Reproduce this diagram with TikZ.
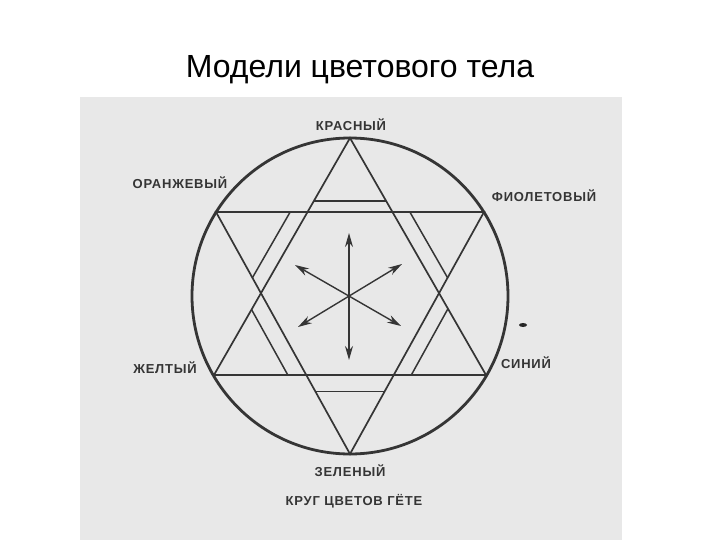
\documentclass[tikz,border=0pt]{standalone}
\usepackage{fontspec}
\setmainfont{Liberation Sans}
\newfontfamily\lblfont[LetterSpace=6]{Liberation Sans Bold}
\usetikzlibrary{arrows.meta,calc}
\definecolor{scan}{HTML}{E8E8E8}
\definecolor{ink}{HTML}{353535}
\tikzset{
  ring/.style={draw=ink, line width=2.8pt},
  tri/.style={draw=ink, line width=1.7pt},
  band/.style={draw=ink, line width=1.5pt},
  arr/.style={draw=ink, line width=1.4pt, {Stealth[length=14pt,width=8pt,inset=4.5pt]}-{Stealth[length=14pt,width=8pt,inset=4.5pt]}},
  lbl/.style={text=ink, font=\lblfont\fontsize{13}{15}\selectfont, inner sep=0pt},
  ttl/.style={text=black, font=\fontsize{32}{36}\selectfont, inner sep=0pt}
}
\begin{document}
\begin{tikzpicture}[x=1pt,y=-1pt]
\useasboundingbox (0,0) rectangle (720,540);
\fill[white] (0,0) rectangle (720,540);
\fill[scan] (80,97) rectangle (622,540);

\node[ttl] (title) at (360,70) {Модели цветового тела};

% hexagram vertices
\coordinate (A)  at (350,138);
\coordinate (B)  at (350,454);
\coordinate (UL) at (216,212);
\coordinate (UR) at (484,212);
\coordinate (LL) at (214,375);
\coordinate (LR) at (486,375);

\draw[ring] (350,296) circle[radius=158pt];

\draw[tri] (A) -- (LL) -- (LR) -- cycle;
\draw[tri] (B) -- (UL) -- (UR) -- cycle;

% inner hexagon corners
\coordinate (H1) at (intersection of A--LL and UL--UR);
\coordinate (H2) at (intersection of A--LR and UL--UR);
\coordinate (H3) at (intersection of A--LR and UR--B);
\coordinate (H4) at (intersection of LL--LR and UR--B);
\coordinate (H5) at (intersection of LL--LR and UL--B);
\coordinate (H6) at (intersection of A--LL and UL--B);

% bands in the six points
\draw[band] ($(A)!0.85!(H1)$) -- ($(A)!0.85!(H2)$);
\draw[band] ($(UR)!0.81!(H2)$) -- ($(UR)!0.81!(H3)$);
\draw[band] ($(LR)!0.81!(H3)$) -- ($(LR)!0.81!(H4)$);
\draw[band] ($(B)!0.79!(H4)$) -- ($(B)!0.79!(H5)$);
\draw[band] ($(LL)!0.80!(H5)$) -- ($(LL)!0.80!(H6)$);
\draw[band] ($(UL)!0.81!(H6)$) -- ($(UL)!0.81!(H1)$);

% arrows
\coordinate (aU)  at (349,233);
\coordinate (aD)  at (349,360);
\coordinate (aUL) at (295,265);
\coordinate (aLR) at (401,326);
\coordinate (aLL) at (298,327);
\coordinate (aUR) at (402,264);
\draw[arr] (aD) -- (aU);
\draw[arr] (aLR) -- (aUL);
\draw[arr] (aLL) -- (aUR);

% labels
\node[lbl] (red)    at (351,125) {КРАСНЫЙ};
\node[lbl] (orange) at (180,183) {ОРАНЖЕВЫЙ};
\node[lbl] (violet) at (544,196) {ФИОЛЕТОВЫЙ};
\node[lbl] (yellow) at (165,368) {ЖЕЛТЫЙ};
\node[lbl] (blue)   at (526,363) {СИНИЙ};
\node[lbl] (green)  at (350,471) {ЗЕЛЕНЫЙ};
\node[lbl] (cap)    at (354,501) {КРУГ ЦВЕТОВ ГЁТЕ};

% scan speck
\fill[black!85] (523,325) ellipse[x radius=4pt, y radius=2pt];
\end{tikzpicture}
\end{document}
